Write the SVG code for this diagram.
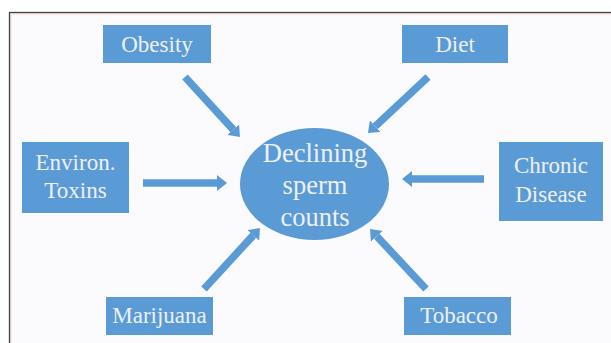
<svg xmlns="http://www.w3.org/2000/svg" width="611" height="343" viewBox="0 0 611 343">
<style>
.box{fill:#5b9bd5;}
.t{font-family:"Liberation Serif","Times New Roman",serif;fill:#eef0f8;text-anchor:middle;font-size:23px;}
.tc{font-size:26.5px;}
.arr{stroke:#5b9bd5;stroke-width:7.5;fill:none;marker-end:url(#ah);}
</style>
<defs>
<marker id="ah" viewBox="0 0 10 16" refX="0" refY="8" markerWidth="10" markerHeight="16" markerUnits="userSpaceOnUse" orient="auto">
<path d="M0,0 L10,8 L0,16 z" fill="#5b9bd5"/>
</marker>
</defs>
<rect x="0" y="0" width="611" height="343" fill="#ffffff"/>
<rect x="9.5" y="12.5" width="620" height="340" fill="#fbfbfe" stroke="#2f4a4a" stroke-width="1.3"/>
<path d="M10.8,344 V13.8 H611" fill="none" stroke="#f3b8a0" stroke-width="0.8"/>
<g id="connectors">
<line class="arr" x1="185" y1="77" x2="233.2" y2="129.6"/>
<line class="arr" x1="428" y1="77" x2="375.3" y2="126.2"/>
<line class="arr" x1="143" y1="183" x2="217" y2="183"/>
<line class="arr" x1="484" y1="179" x2="412" y2="179"/>
<line class="arr" x1="204" y1="289" x2="253.2" y2="235.4"/>
<line class="arr" x1="426" y1="289" x2="376.8" y2="236.3"/>
</g>
<g id="center">
<ellipse class="box" cx="314.5" cy="184" rx="74.5" ry="56"/>
<text class="t tc" x="315" y="162">Declining</text>
<text class="t tc" x="315" y="194">sperm</text>
<text class="t tc" x="315" y="226">counts</text>
</g>
<g id="obesity">
<rect class="box" x="103" y="25" width="108" height="38"/>
<text class="t" x="157" y="52">Obesity</text>
</g>
<g id="diet">
<rect class="box" x="402" y="25" width="106" height="38"/>
<text class="t" x="455" y="52">Diet</text>
</g>
<g id="environ">
<rect class="box" x="22" y="142" width="107" height="71"/>
<text class="t" x="75.5" y="170">Environ.</text>
<text class="t" x="75.5" y="198">Toxins</text>
</g>
<g id="chronic">
<rect class="box" x="499" y="142" width="104" height="79"/>
<text class="t" x="551" y="173">Chronic</text>
<text class="t" x="551" y="202">Disease</text>
</g>
<g id="marijuana">
<rect class="box" x="106" y="297" width="107" height="38"/>
<text class="t" x="159.5" y="323">Marijuana</text>
</g>
<g id="tobacco">
<rect class="box" x="404" y="297" width="107" height="38"/>
<text class="t" x="459" y="323">Tobacco</text>
</g>
</svg>
